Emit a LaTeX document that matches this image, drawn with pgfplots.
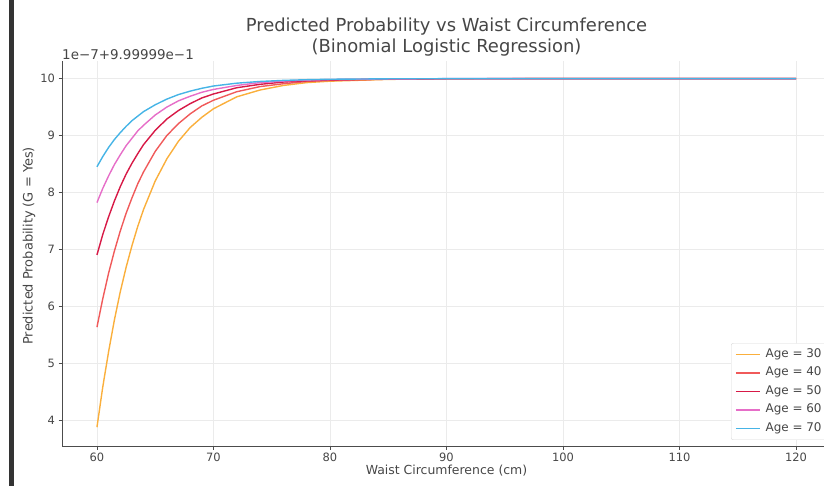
\documentclass[border=0pt]{standalone}
\usepackage{fontspec}
\setmainfont{DejaVu Sans}
\usepackage{pgfplots}
\usepackage{pgfplotstable}
\pgfplotsset{compat=1.18}
\definecolor{c30}{RGB}{250,175,60}
\definecolor{c40}{RGB}{240,90,90}
\definecolor{c50}{RGB}{215,25,70}
\definecolor{c60}{RGB}{230,110,200}
\definecolor{c70}{RGB}{70,180,230}
\definecolor{txt}{RGB}{70,70,70}
\pgfplotstableread{
x a30 a40 a50 a60 a70
60 3.87 5.63 6.90 7.82 8.45
60.5 4.58 6.13 7.26 8.07 8.63
61 5.20 6.58 7.57 8.29 8.79
61.5 5.76 6.97 7.85 8.49 8.93
62 6.25 7.32 8.10 8.66 9.05
62.5 6.68 7.63 8.32 8.82 9.16
63 7.06 7.90 8.51 8.95 9.26
63.5 7.40 8.15 8.68 9.08 9.34
64 7.70 8.36 8.84 9.18 9.42
65 8.20 8.72 9.09 9.36 9.54
66 8.59 9.00 9.29 9.50 9.64
67 8.90 9.21 9.44 9.61 9.72
68 9.14 9.38 9.56 9.69 9.78
69 9.32 9.52 9.66 9.76 9.83
70 9.47 9.62 9.73 9.81 9.87
72 9.68 9.77 9.84 9.88 9.92
74 9.80 9.86 9.90 9.93 9.95
76 9.88 9.91 9.94 9.957 9.969
78 9.93 9.95 9.962 9.973 9.981
80 9.955 9.968 9.977 9.984 9.989
85 9.987 9.990 9.993 9.995 9.997
90 9.996 9.997 9.998 9.999 9.999
100 10 10 10 10 10
110 10 10 10 10 10
120 10 10 10 10 10
}\datatable
\begin{document}
\begin{tikzpicture}
\useasboundingbox (0,0) rectangle (824bp,486bp);
\clip (0,0) rectangle (824bp,486bp);
\fill[black!80] (9bp,0) rectangle (14bp,486bp);
\begin{axis}[
  name=ax,
  at={(62bp,40bp)}, anchor=south west,
  scale only axis, width=769bp, height=385bp,
  xmin=57, xmax=123, ymin=3.54, ymax=10.31,
  axis x line*=bottom, axis y line*=left,
  axis line style={black!70, line width=0.8pt},
  xtick={60,70,...,120}, ytick={4,5,...,10},
  tick align=outside, major tick length=3.5bp,
  tick style={black!70, line width=0.6pt},
  grid=major, grid style={black!8, line width=0.6pt},
  ticklabel style={font=\fontsize{11.5}{13}\selectfont, text=txt},
  /pgf/number format/assume math mode=true,
  xlabel={Waist Circumference (cm)},
  ylabel={Predicted Probability (G = Yes)},
  xlabel style={font=\fontsize{12.5}{14}\selectfont, text=txt, at={(axis description cs:0.5,0)}, anchor=center, yshift=-25bp},
  ylabel style={font=\fontsize{13}{15}\selectfont, text=txt, at={(axis description cs:0,0.52)}, anchor=center, yshift=33bp},
  legend style={at={(rel axis cs:0.870,0)}, anchor=south west, yshift=6bp,
    font=\fontsize{12}{14}\selectfont, text=txt, draw=black!15, rounded corners=2pt,
    nodes={inner sep=1bp, text height=8bp, text depth=2.5bp},
    row sep=6bp, column sep=4bp, inner xsep=4bp, inner ysep=5bp},
  legend cell align=left,
  legend image code/.code={\draw[#1] (1bp,0bp) -- (25bp,0bp);},
  every axis plot/.append style={line width=1.4bp},
]
\addplot[c30] table[x=x,y=a30]{\datatable};
\addlegendentry{Age = 30}
\addplot[c40] table[x=x,y=a40]{\datatable};
\addlegendentry{Age = 40}
\addplot[c50] table[x=x,y=a50]{\datatable};
\addlegendentry{Age = 50}
\addplot[c60] table[x=x,y=a60]{\datatable};
\addlegendentry{Age = 60}
\addplot[c70] table[x=x,y=a70]{\datatable};
\addlegendentry{Age = 70}
\end{axis}
\node[anchor=south west, inner sep=0pt, font=\fontsize{13.5}{15}\selectfont, text=txt] at ([yshift=1bp]ax.north west) {1e−7+9.99999e−1};
\node[align=center, font=\fontsize{18}{21}\selectfont, text=txt] at ([yshift=24bp]ax.north) {Predicted Probability vs Waist Circumference\\(Binomial Logistic Regression)};
\end{tikzpicture}
\end{document}
